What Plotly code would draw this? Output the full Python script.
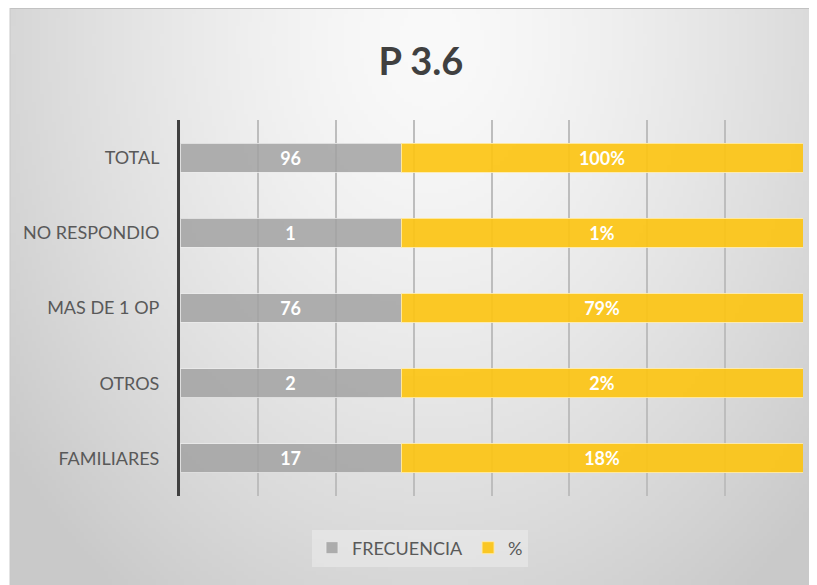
import base64, struct, zlib
import numpy as np
import plotly.graph_objects as go

# ---- data ----
categorias = ["FAMILIARES", "OTROS", "MAS DE 1 OP", "NO RESPONDIO", "TOTAL"]
frecuencia = [17, 2, 76, 1, 96]
porcentaje_txt = ["18%", "2%", "79%", "1%", "100%"]
# segment lengths as drawn in the original chart (share of the axis)
seg_frecuencia = [0.355, 0.355, 0.355, 0.355, 0.355]
seg_porcentaje = [0.645, 0.645, 0.645, 0.645, 0.645]

# page body has an 8px margin: the figure is drawn 8px right/down
O = 8
W, H = 817 - O, 585 - O
L, R, T, B = 180 - O, 14, 120 - O, 89
pw, ph = W - L - R, H - T - B

# ---- background gradient image ----
gw, gh = 202, 145
xs = (np.arange(gw) + 0.5) / gw * 807 + 10
ys = (np.arange(gh) + 0.5) / gh * 577 + 8
X, Y = np.meshgrid(xs, ys)
d = np.sqrt(((X - 430) / 460) ** 2 + ((Y - 40) / 600) ** 2)
val = 250 - 40 * d ** 1.4
val = np.clip(val, 201, 251).astype(np.uint8)
rgb = np.stack([val, val, val], axis=-1)
raw = b"".join(b"\x00" + rgb[i].tobytes() for i in range(gh))
def chunk(t, data):
    c = struct.pack(">I", len(data)) + t + data
    return c + struct.pack(">I", zlib.crc32(t + data) & 0xffffffff)
png = b"\x89PNG\r\n\x1a\n" + chunk(b"IHDR", struct.pack(">IIBBBBB", gw, gh, 8, 2, 0, 0, 0)) \
      + chunk(b"IDAT", zlib.compress(raw, 9)) + chunk(b"IEND", b"")
bg_src = "data:image/png;base64," + base64.b64encode(png).decode()

font_fam = "Lato, Open Sans, sans-serif"

fig = go.Figure()
fig.add_trace(go.Bar(
    y=categorias, x=seg_frecuencia, orientation="h", name="FRECUENCIA",
    marker=dict(color="rgba(162,162,162,0.85)", line=dict(color="rgba(235,235,235,0.8)", width=1)),
    text=[str(v) for v in frecuencia], textposition="inside", insidetextanchor="middle",
    textfont=dict(color="white", size=18, family=font_fam, weight="bold"),
    hoverinfo="skip",
))
fig.add_trace(go.Bar(
    y=categorias, x=seg_porcentaje, orientation="h", name="%",
    marker=dict(color="rgba(252,196,20,0.92)", line=dict(color="rgba(255,235,170,0.9)", width=1)),
    text=porcentaje_txt, textposition="inside", insidetextanchor="middle",
    textfont=dict(color="white", size=18, family=font_fam, weight="bold"),
    hoverinfo="skip",
))

fig.update_layout(
    width=W, height=H,
    margin=dict(l=L, r=R, t=T, b=B),
    barmode="stack", bargap=0.615,
    paper_bgcolor="white", plot_bgcolor="rgba(0,0,0,0)",
    font=dict(family=font_fam, color="#595959"),
    title=dict(text="<b>P 3.6</b>", x=(421 - O) / W, xanchor="center", xref="container",
               y=1 - (62 - O) / H, yanchor="middle", yref="container",
               font=dict(size=38, color="#404040", family=font_fam)),
    xaxis=dict(range=[0, 1], dtick=0.125, showticklabels=False, showgrid=True,
               gridcolor="#bdbdbd", gridwidth=1.5, zeroline=False, showline=False, fixedrange=True),
    yaxis=dict(showline=True, linecolor="#404040", linewidth=3, ticks="", showgrid=False,
               tickfont=dict(size=18, color="#595959", family=font_fam), ticklabelstandoff=14,
               fixedrange=True),
    legend=dict(orientation="h", xref="container", yref="container", x=(420 - O) / W, xanchor="center",
                y=(585 - 548) / H, yanchor="middle", bgcolor="rgba(236,236,236,0.55)",
                font=dict(size=18, color="#595959", family=font_fam), itemwidth=30,
                traceorder="normal"),
    showlegend=True,
    images=[dict(source=bg_src, xref="paper", yref="paper",
                 x=(10 - 180) / pw, y=(496 - 8) / ph, sizex=807 / pw, sizey=577 / ph,
                 xanchor="left", yanchor="top", sizing="stretch", layer="below")],
    shapes=[
        dict(type="line", xref="paper", yref="paper", x0=(10 - 180) / pw, x1=(817 - 180) / pw,
             y0=(496 - 8) / ph, y1=(496 - 8) / ph, line=dict(color="#c2c2c2", width=2)),
        dict(type="line", xref="paper", yref="paper", x0=(10 - 180) / pw, x1=(10 - 180) / pw,
             y0=(496 - 8) / ph, y1=(496 - 585) / ph, line=dict(color="#c8c8c8", width=1)),
    ],
)
fig.write_html("out.html")
